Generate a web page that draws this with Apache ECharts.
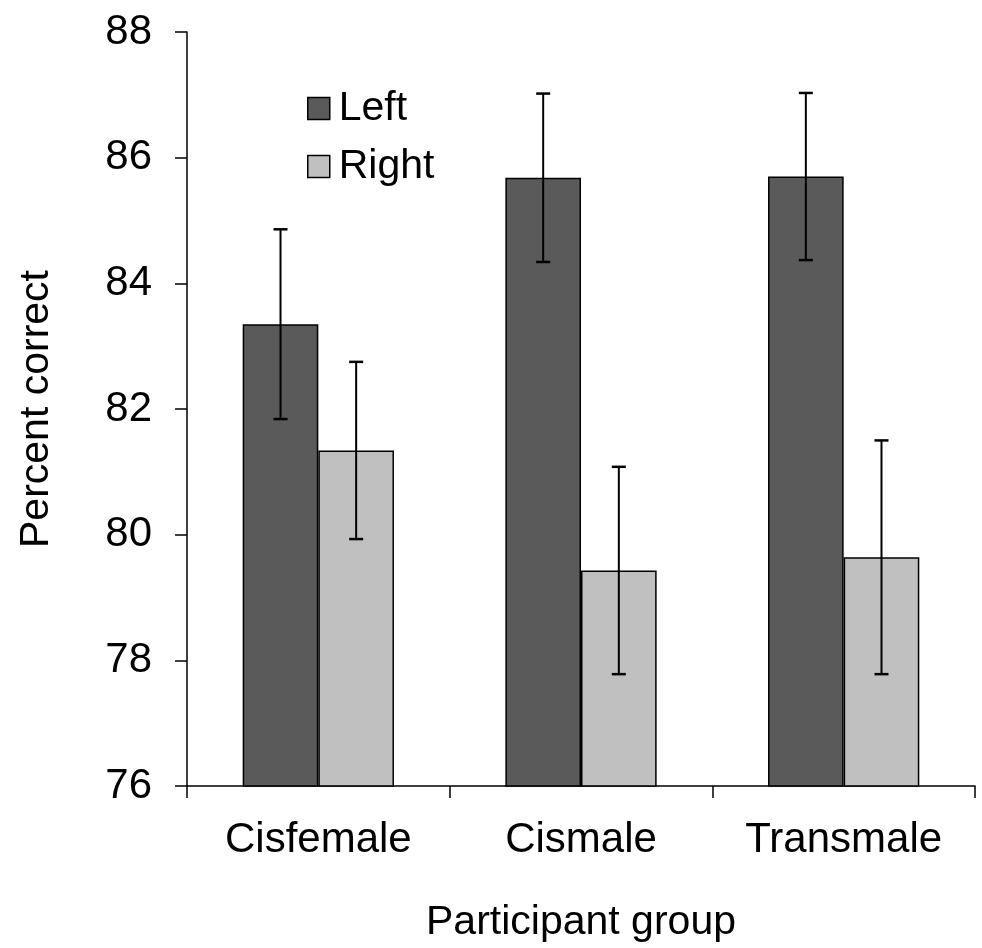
<!DOCTYPE html>
<html>
<head>
<meta charset="utf-8">
<script src="https://cdn.jsdelivr.net/npm/echarts@6/dist/echarts.min.js"></script>
<style>
html,body{margin:0;padding:0;background:#fff;}
#chart{width:982px;height:948px;}
</style>
</head>
<body>
<div id="chart"></div>
<script>
var categories = ['Cisfemale', 'Cismale', 'Transmale'];
var leftMeans = [83.35, 85.68, 85.70];
var leftErr = [1.51, 1.34, 1.33];
var rightMeans = [81.34, 79.43, 79.64];
var rightErr = [1.41, 1.65, 1.86];
var yTicks = [76, 78, 80, 82, 84, 86, 88];

var FONT = 'Liberation Sans, Arial, sans-serif';
var BAR_FRAC = 0.288;

function errSeries(name, means, errs, side) {
  var data = means.map(function (m, i) { return [i, m - errs[i], m + errs[i]]; });
  return {
    type: 'custom',
    name: name + ' err',
    z: 10,
    silent: true,
    data: data,
    renderItem: function (params, api) {
      var idx = api.value(0);
      var lo = api.coord([idx, api.value(1)]);
      var hi = api.coord([idx, api.value(2)]);
      var band = api.size([1, 0])[0];
      var off = side * band * BAR_FRAC / 2;
      var x = lo[0] + off;
      var cap = 7;
      var st = { stroke: '#000', lineWidth: 2 };
      var capSt = { stroke: '#000', lineWidth: 2.5 };
      return {
        type: 'group',
        children: [
          { type: 'line', shape: { x1: x, y1: lo[1], x2: x, y2: hi[1] }, style: st },
          { type: 'line', shape: { x1: x - cap, y1: lo[1], x2: x + cap, y2: lo[1] }, style: capSt },
          { type: 'line', shape: { x1: x - cap, y1: hi[1], x2: x + cap, y2: hi[1] }, style: capSt }
        ]
      };
    }
  };
}

var chart = echarts.init(document.getElementById('chart'), null, { renderer: 'canvas' });
chart.setOption({
  animation: false,
  backgroundColor: '#fff',
  textStyle: { fontFamily: FONT, color: '#000' },
  grid: { left: 187, right: 7, top: 32, bottom: 158, containLabel: false },
  legend: {
    orient: 'vertical',
    left: 302,
    top: 83,
    itemWidth: 22,
    itemHeight: 22,
    itemGap: 17,
    icon: 'rect',
    data: ['Left', 'Right'],
    itemStyle: { borderColor: '#000', borderWidth: 1.5 },
    textStyle: { fontFamily: FONT, fontSize: 41, color: '#000', lineHeight: 40, padding: [0, 0, 0, 4] }
  },
  xAxis: {
    type: 'category',
    data: categories,
    boundaryGap: true,
    name: 'Participant group',
    nameLocation: 'middle',
    nameGap: 116,
    nameTextStyle: { fontFamily: FONT, fontSize: 41, color: '#000' },
    axisLine: { show: true, lineStyle: { color: '#000', width: 1.5 } },
    axisTick: { show: true, inside: false, length: 12, alignWithLabel: false, lineStyle: { color: '#000', width: 1.5 } },
    axisLabel: { fontFamily: FONT, fontSize: 42, color: '#000', margin: 33 },
    splitLine: { show: false }
  },
  yAxis: {
    type: 'value',
    min: yTicks[0],
    max: yTicks[yTicks.length - 1],
    interval: yTicks[1] - yTicks[0],
    name: 'Percent correct',
    nameLocation: 'middle',
    nameRotate: 90,
    nameGap: 130,
    nameTextStyle: { fontFamily: FONT, fontSize: 41, color: '#000' },
    axisLine: { show: true, lineStyle: { color: '#000', width: 1.5 } },
    axisTick: { show: true, inside: false, length: 12, lineStyle: { color: '#000', width: 1.5 } },
    axisLabel: { fontFamily: FONT, fontSize: 42, color: '#000', margin: 35 },
    splitLine: { show: false }
  },
  series: [
    {
      name: 'Left',
      type: 'bar',
      data: leftMeans,
      barWidth: (BAR_FRAC * 100) + '%',
      barGap: '0%',
      itemStyle: { color: '#5a5a5a', borderColor: '#000', borderWidth: 1.5 }
    },
    {
      name: 'Right',
      type: 'bar',
      data: rightMeans,
      barWidth: (BAR_FRAC * 100) + '%',
      barGap: '0%',
      itemStyle: { color: '#c0c0c0', borderColor: '#000', borderWidth: 1.5 }
    },
    errSeries('Left', leftMeans, leftErr, -1),
    errSeries('Right', rightMeans, rightErr, 1)
  ]
});
</script>
</body>
</html>
